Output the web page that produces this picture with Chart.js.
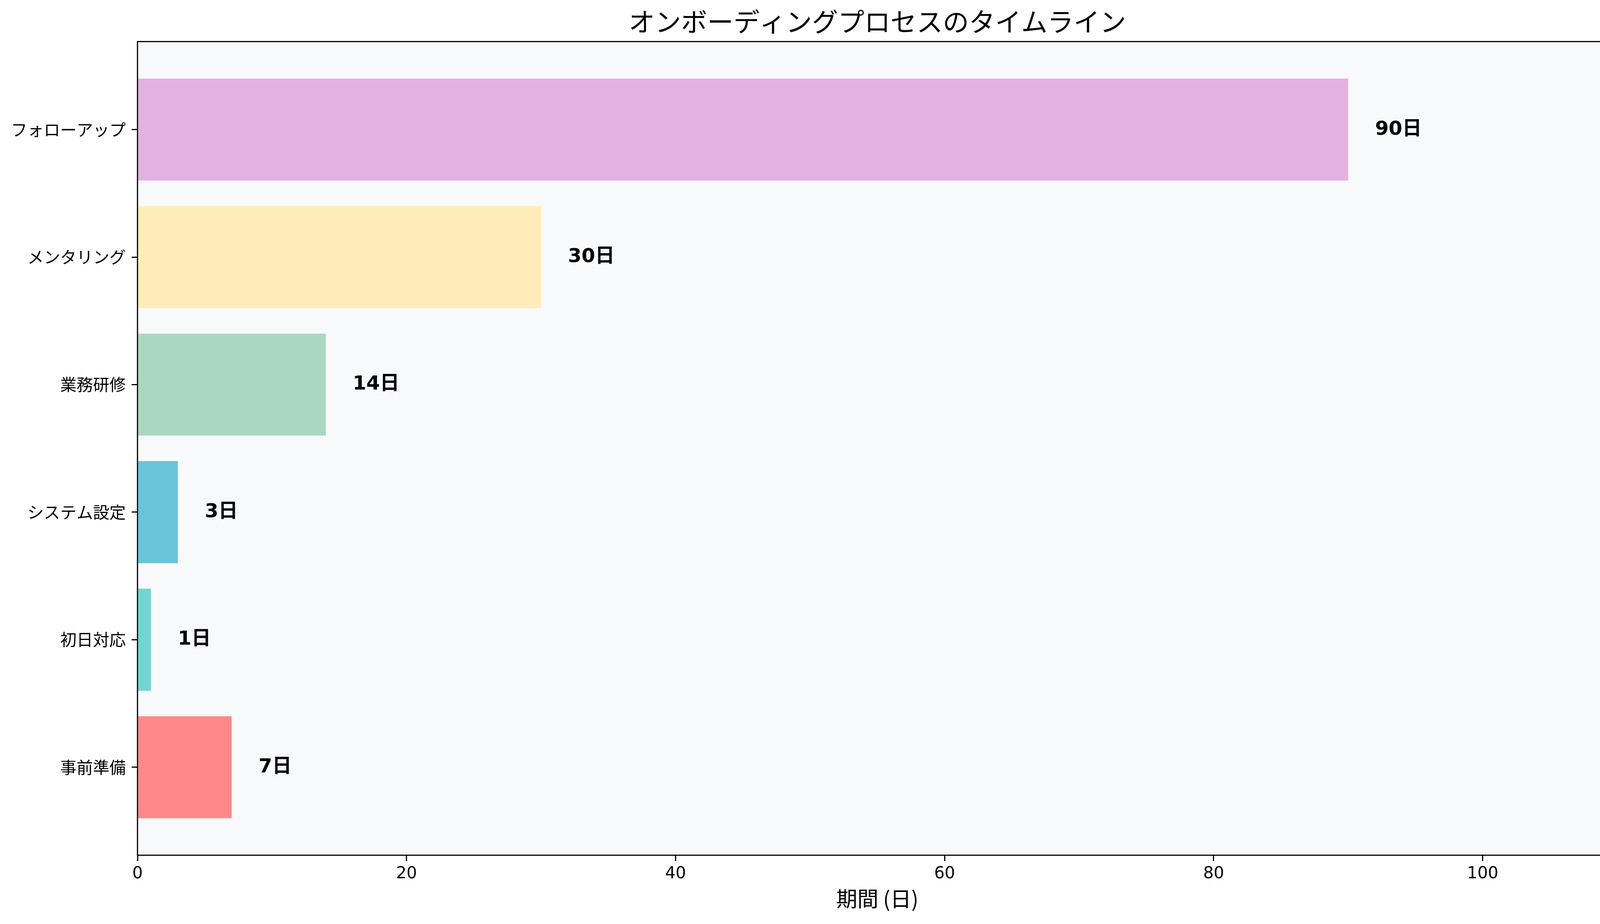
<!DOCTYPE html>
<html>
<head>
<meta charset="utf-8">
<script src="https://cdn.jsdelivr.net/npm/chart.js@4/dist/chart.umd.min.js"></script>
<style>
  html, body { margin: 0; padding: 0; background: #ffffff; overflow: hidden; }
  #myChart { display: block; width: 4170px; height: 2365px; }
</style>
</head>
<body>
<canvas id="myChart" width="4170" height="2365"></canvas>
<script>
// categories from bottom to top, as in the reference
const categories = ['事前準備', '初日対応', 'システム設定', '業務研修', 'メンタリング', 'フォローアップ'];
const days = [7, 1, 3, 14, 30, 90];
const barColors = [
    'rgba(255, 107, 107, 0.8)',
    'rgba(78, 205, 196, 0.8)',
    'rgba(69, 183, 209, 0.8)',
    'rgba(150, 206, 180, 0.8)',
    'rgba(255, 234, 167, 0.8)',
    'rgba(221, 160, 221, 0.8)',
];
const xTicks = [0, 20, 40, 60, 80, 100];

const jpFont = '"Noto Sans CJK JP", "DejaVu Sans", sans-serif';
const numFont = '"DejaVu Sans", "Noto Sans CJK JP", sans-serif';

// plot background and frame
const frame = {
    id: 'frame',
    beforeDraw(chart) {
        const a = chart.chartArea, ctx = chart.ctx;
        ctx.save();
        ctx.fillStyle = '#ffffff';
        ctx.fillRect(0, 0, chart.width, chart.height);
        ctx.fillStyle = '#F8F9FA';
        ctx.fillRect(a.left, a.top, a.right - a.left, a.bottom - a.top);
        ctx.restore();
    },
    afterDraw(chart) {
        const a = chart.chartArea, ctx = chart.ctx;
        ctx.save();
        ctx.strokeStyle = '#000000';
        ctx.lineWidth = 3;
        ctx.strokeRect(a.left, a.top, a.right - a.left, a.bottom - a.top);
        ctx.restore();
    }
};

// "N日" next to every bar
const valueLabels = {
    id: 'valueLabels',
    afterDatasetsDraw(chart) {
        const ctx = chart.ctx, xs = chart.scales.x, ys = chart.scales.y;
        ctx.save();
        ctx.font = 'bold 50px ' + numFont;
        ctx.fillStyle = '#000000';
        ctx.textAlign = 'left';
        ctx.textBaseline = 'middle';
        days.forEach((v, i) => {
            ctx.fillText(v + '日', xs.getPixelForValue(v + 2), ys.getPixelForValue(i));
        });
        ctx.restore();
    }
};

const ctx = document.getElementById('myChart').getContext('2d');
const myChart = new Chart(ctx, {
    type: 'bar',
    data: {
        datasets: [{
            data: days.map((v, i) => ({ x: v, y: i })),
            backgroundColor: barColors,
            borderWidth: 0,
            barPercentage: 0.8,
            categoryPercentage: 1.0,
        }]
    },
    options: {
        indexAxis: 'y',
        responsive: false,
        devicePixelRatio: 1,
        animation: false,
        layout: { padding: { left: 0, top: 0, right: 30, bottom: 0 } },
        scales: {
            x: {
                type: 'linear',
                min: 0,
                max: 110,
                afterBuildTicks: axis => { axis.ticks = xTicks.map(v => ({ value: v })); },
                afterFit: axis => { axis.height = 176; },
                grid: { drawOnChartArea: false, drawTicks: true, tickLength: 15, color: '#000000', lineWidth: 3 },
                border: { display: false },
                ticks: { color: '#000000', padding: 8, font: { family: numFont, size: 42 } },
                title: {
                    display: true,
                    text: '期間 (日)',
                    color: '#000000',
                    font: { family: jpFont, size: 54 },
                    padding: { top: 0, bottom: 32 },
                },
            },
            y: {
                type: 'linear',
                min: -0.69,
                max: 5.69,
                offset: false,
                afterBuildTicks: axis => { axis.ticks = categories.map((c, i) => ({ value: i })); },
                afterFit: axis => { axis.width = 352; },
                grid: { offset: false, drawOnChartArea: false, drawTicks: true, tickLength: 15, color: '#000000', lineWidth: 3 },
                border: { display: false },
                ticks: {
                    color: '#000000',
                    padding: 15,
                    font: { family: jpFont, size: 42 },
                    callback: v => categories[v],
                },
            },
        },
        plugins: {
            legend: { display: false },
            tooltip: { enabled: false },
            title: {
                display: true,
                fullSize: false,
                text: 'オンボーディングプロセスのタイムライン',
                color: '#000000',
                font: { family: jpFont, size: 67, weight: 'normal' },
                padding: { top: 15, bottom: 11 },
            },
        }
    },
    plugins: [frame, valueLabels]
});
</script>
</body>
</html>
